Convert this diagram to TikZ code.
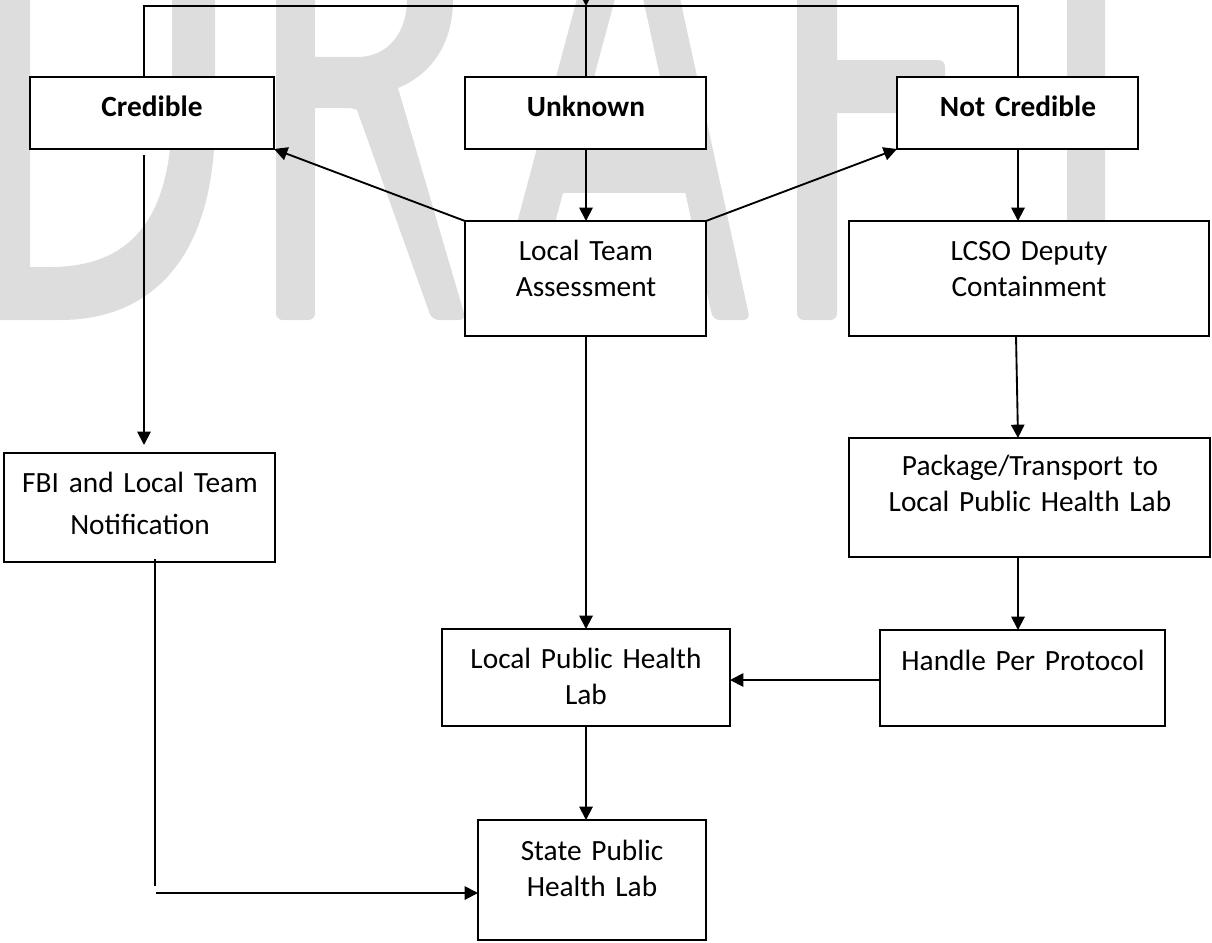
\documentclass[tikz,border=0pt]{standalone}
\usepackage{fontspec}
\setmainfont{Carlito}
\usetikzlibrary{arrows.meta,fit}
\definecolor{wmgray}{RGB}{221,221,221}
\begin{document}
\begin{tikzpicture}[x=0.75pt,y=-0.75pt,
  wm/.style={fill=wmgray},
  flowbox/.style={draw=black, line width=1.5pt, fill=white, inner sep=0pt, outer sep=0pt},
  txt/.style={font=\fontsize{22}{27}\selectfont, align=center, inner sep=0pt, anchor=base, text width=330pt},
  boldtxt/.style={txt, font=\fontsize{22}{27}\selectfont\bfseries},
  conn/.style={line width=1.4pt, draw=black},
  arr/.style={conn, -{Triangle[length=10pt,width=10pt]}}]
\useasboundingbox (0,0) rectangle (1212,942);
% watermark
\begin{scope}
\clip (0,0) rectangle (1212,942);
\fill[wm, even odd rule] (-40,-20) -- (-40,320) -- (60,320) .. controls (150,320) and (215,260) .. (215,120) -- (215,-20) -- cycle
  (30,-20) -- (30,267) -- (50,267) .. controls (130,267) and (172,220) .. (172,110) -- (172,-20) -- cycle;
\fill[wm, rounded corners=5pt] (276,-20) rectangle (315,320);
\fill[wm] (310,57) -- (357,57) .. controls (390,57) and (407,30) .. (407,0) -- (407,-20) -- (453,-20) -- (453,0)
  .. controls (453,45) and (430,75) .. (398,88) [rounded corners=5pt]-- (466,320) -- (432,320) [sharp corners]-- (357,110)
  .. controls (352,108) and (350,108) .. (345,108) -- (310,108) -- cycle;
\fill[wm, rounded corners=5pt] (582,-20) -- (620,-20) -- (529,320) -- (491,320) -- cycle;
\fill[wm, rounded corners=5pt] (639,-20) -- (676,-20) -- (750,320) -- (713,320) -- cycle;
\fill[wm] (555,147) rectangle (690,193);
\fill[wm, rounded corners=5pt] (797,-20) rectangle (837,320);
\fill[wm, rounded corners=5pt] (825,60) rectangle (945,113);
\fill[wm, rounded corners=5pt] (1067,-20) rectangle (1105,320);
\end{scope}
% boxes
\node[flowbox, fit={(30,77) (274,149)}] (cred) {};
\node[flowbox, fit={(465,77) (706,149)}] (unk) {};
\node[flowbox, fit={(897,77) (1138,149)}] (nc) {};
\node[flowbox, fit={(465,221) (706,336)}] (lta) {};
\node[flowbox, fit={(849,221) (1209,336)}] (lcso) {};
\node[flowbox, fit={(4,453) (275,562)}] (fbi) {};
\node[flowbox, fit={(849,438) (1210,557)}] (pkg) {};
\node[flowbox, fit={(442,629) (730,726)}] (lphl) {};
\node[flowbox, fit={(880,630) (1165,726)}] (hpp) {};
\node[flowbox, fit={(478,820) (706,940)}] (state) {};
% texts
\node[boldtxt] (cred-t) at (152,116) {Credible};
\node[boldtxt] (unk-t) at (586,116) {Unknown};
\node[boldtxt] (nc-t) at (1018,116) {Not Credible};
\node[txt] (lta-t) at (586,260) {Local Team\\Assessment};
\node[txt] (lcso-t) at (1029,260) {LCSO Deputy\\Containment};
\node[txt, font=\fontsize{22}{31.5}\selectfont] (fbi-t) at (140,492) {FBI and Local Team\\Notification};
\node[txt] (pkg-t) at (1030,475) {Package/Transport to\\Local Public Health Lab};
\node[txt] (lphl-t) at (586,668) {Local Public Health\\Lab};
\node[txt] (hpp-t) at (1023,670) {Handle Per Protocol};
\node[txt] (state-t) at (592,860) {State Public\\Health Lab};
% connectors
\coordinate (src) at (586,-30);
\coordinate (jn) at (586,6);
\coordinate (jl) at (144,6);
\coordinate (jr) at (1018,6);
\draw[arr] (src) -- (jn);
\draw[conn] (cred.north -| jl) -- (jl) -- (jr) -- (nc.north -| jr);
\draw[conn] (jn) -- (unk.north -| jn);
\draw[arr] (lta.north west) -- (cred.south east);
\draw[arr] (lta.north east) -- (nc.south west);
\draw[arr] (unk.south -| jn) -- (lta.north -| jn);
\draw[arr] (nc.south -| jr) -- (lcso.north -| jr);
\coordinate (cv) at (144,0);
\draw[arr] ([yshift=-4.5pt]cred.south -| cv) -- ([yshift=6pt]fbi.north -| cv);
\coordinate (pv1) at (1016,0);
\coordinate (pv2) at (1018,0);
\draw[arr] (lcso.south -| pv1) -- (pkg.north -| pv2);
\draw[arr] (pkg.south -| pv2) -- (hpp.north -| pv2);
\coordinate (hy) at (0,680);
\draw[arr] (hpp.west |- hy) -- (lphl.east |- hy);
\draw[arr] (lta.south -| jn) -- (lphl.north -| jn);
\draw[arr] (lphl.south -| jn) -- (state.north -| jn);
\coordinate (fv) at (155,0);
\coordinate (fb) at (155,886);
\coordinate (fh) at (156,893);
\draw[conn] ([yshift=2.25pt]fbi.south -| fv) -- (fb);
\draw[arr] (fh) -- (state.west |- fh);
\end{tikzpicture}
\end{document}
